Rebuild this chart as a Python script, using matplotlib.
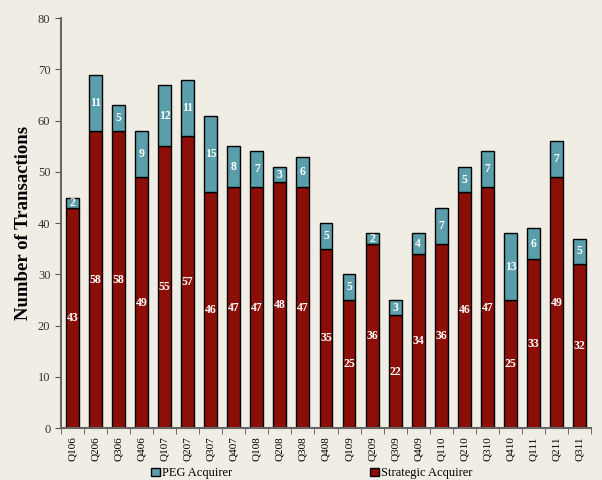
import numpy as np
import matplotlib.pyplot as plt
from matplotlib.patches import Patch

'''Data'''
quarters = ['Q106', 'Q206', 'Q306', 'Q406', 'Q107', 'Q207', 'Q307', 'Q407',
            'Q108', 'Q208', 'Q308', 'Q408', 'Q109', 'Q209', 'Q309', 'Q409',
            'Q110', 'Q210', 'Q310', 'Q410', 'Q111', 'Q211', 'Q311']
strategic = [43, 58, 58, 49, 55, 57, 46, 47, 47, 48, 47, 35, 25, 36, 22, 34,
             36, 46, 47, 25, 33, 49, 32]
peg = [2, 11, 5, 9, 12, 11, 15, 8, 7, 3, 6, 5, 5, 2, 3, 4, 7, 5, 7, 13, 6, 7, 5]

bg = '#F0EDE5'
red = '#8B0F07'
teal = '#5A9DAB'

plt.rcParams['font.family'] = ['Liberation Serif', 'DejaVu Serif']

fig = plt.figure(figsize=(6.02, 4.8), dpi=100, facecolor=bg)
ax = fig.add_axes([0.101, 0.108, 0.881, 0.854], facecolor=bg)

x = np.arange(len(quarters))
w = 0.56
ax.bar(x, strategic, w, color=red, edgecolor='black', linewidth=1)
ax.bar(x, peg, w, bottom=strategic, color=teal, edgecolor='black', linewidth=1)

'''Value labels in the middle of each segment'''
for i in range(len(quarters)):
    ax.text(x[i], strategic[i] / 2, str(strategic[i]), ha='center', va='center',
            color='white', fontsize=8.5, fontweight='bold')
    ax.text(x[i], strategic[i] + peg[i] / 2, str(peg[i]), ha='center', va='center',
            color='white', fontsize=8.5, fontweight='bold')

ax.set_xlim(-0.5, len(quarters) - 0.5)
ax.set_ylim(0, 80)
ax.set_yticks(np.arange(0, 81, 10))
ax.set_xticks(x)
ax.set_xticklabels(quarters, rotation=90, fontsize=8)
ax.set_xticks(np.arange(-0.5, len(quarters), 1), minor=True)
ax.tick_params(axis='x', which='major', length=0, pad=6)
ax.tick_params(axis='x', which='minor', length=4, direction='out', color='#555555')
ax.tick_params(axis='y', length=4, direction='out', labelsize=9, color='#555555',
               labelcolor='#333333')
for s in ['top', 'right']:
    ax.spines[s].set_visible(False)
for s in ['left', 'bottom']:
    ax.spines[s].set_color('#666666')
    ax.spines[s].set_linewidth(1.5)
ax.set_ylabel('Number of Transactions', fontsize=13.5, fontweight='bold', labelpad=4)

handles = [Patch(facecolor=teal, edgecolor='black', label='PEG Acquirer'),
           Patch(facecolor=red, edgecolor='black', label='Strategic Acquirer')]
fig.legend(handles=handles, loc='center', bbox_to_anchor=(0.518, 0.014), ncol=2,
           frameon=False, fontsize=9, handlelength=0.7, handleheight=0.7,
           handletextpad=0.2, columnspacing=11)

plt.savefig('out.png', dpi=100, facecolor=bg)
